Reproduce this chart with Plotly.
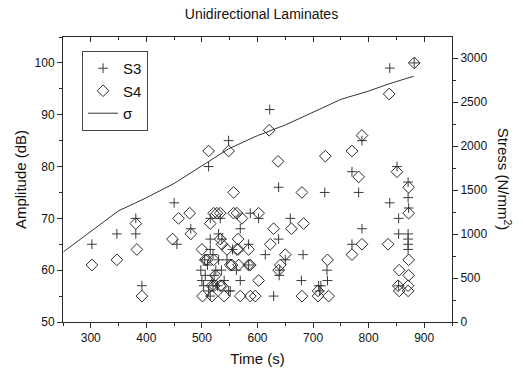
import plotly.graph_objects as go

# S3 acoustic emission hits: time (s), amplitude (dB)
s3_time = [302, 347, 381, 381, 392, 450, 455, 480, 512, 515, 533, 548, 569, 587, 602, 584,
           622, 638, 638, 659, 614, 650, 682, 679, 639, 629, 569, 551, 584, 721, 725, 726,
           710, 770, 770, 782, 788, 788, 838, 838, 851, 854, 854, 854, 871, 871, 872, 871,
           871, 871, 871, 882, 640,
           506, 515, 518, 522, 503, 512, 536, 530, 545, 548, 525, 510, 520, 540, 555, 498,
           505, 515, 528, 535, 562, 500, 515, 530, 520, 712, 714]
s3_amp = [65, 67, 70, 67, 57, 73, 65, 68, 80, 70, 70, 85, 68, 71, 70, 65,
          91, 76, 66, 70, 63, 62, 63, 58, 59, 55, 58, 56, 61, 75, 60, 58,
          57, 79, 65, 75, 68, 85, 99, 73, 80, 70, 67, 57, 77, 74, 72, 67,
          66, 65, 64, 100, 60,
          59, 64, 58, 59, 57, 56, 66, 67, 62, 56, 60, 61, 63, 58, 64, 60,
          62, 66, 57, 60, 60, 58, 55, 62, 57, 56, 57]

# S4 acoustic emission hits: time (s), amplitude (dB)
s4_time = [302, 347, 381, 383, 392, 458, 478, 480, 447, 512, 548, 557, 621, 637, 680, 722,
           770, 788, 782, 837, 851, 872, 872, 882, 770, 788, 835, 855, 872, 872, 853, 855,
           871, 871, 726, 683, 661, 629, 623, 650, 641, 638, 602, 584, 566, 551, 557, 572,
           602, 527, 515, 533, 521, 563, 565, 565, 536, 533, 500, 506, 522, 536, 545, 563,
           584, 587, 554, 509, 524, 518, 533, 501, 518, 540, 569, 587, 596, 680, 709, 728,
           709, 521]
s4_amp = [61, 62, 69, 64, 55, 70, 71, 67, 66, 83, 83, 75, 87, 81, 75, 82,
          83, 86, 78, 94, 79, 76, 71, 100, 63, 65, 65, 60, 62, 59, 57, 56,
          56, 57, 62, 69, 68, 68, 65, 63, 61, 60, 58, 61, 61, 61, 71, 70,
          71, 71, 69, 71, 71, 71, 66, 64, 65, 66, 64, 62, 57, 57, 64, 64,
          64, 61, 61, 62, 59, 57, 57, 55, 55, 55, 55, 55, 55, 55, 55, 55,
          56, 62]

# Stress curve: time (s), stress (N/mm^2)
stress_time = [251, 300, 350, 398, 450, 506, 548, 600, 650, 700, 750, 770, 800, 833, 881]
stress_val = [799, 1030, 1264, 1406, 1575, 1800, 1969, 2119, 2240, 2385, 2531, 2569, 2625, 2700, 2794]

X_RANGE = [250, 950]
Y_RANGE = [50, 105]
Y2_RANGE = [0, 3240]

ink = "#2a2a2a"
font_family = "Liberation Sans, Arial, sans-serif"

fig = go.Figure()
fig.add_trace(go.Scatter(x=s3_time, y=s3_amp, mode="markers", name="S3",
                         marker=dict(symbol="cross-thin-open", size=7, color="#3a3a3a",
                                     line=dict(width=1, color="#3a3a3a"))))
fig.add_trace(go.Scatter(x=s4_time, y=s4_amp, mode="markers", name="S4",
                         marker=dict(symbol="diamond-open", size=9, color=ink,
                                     line=dict(width=1, color=ink))))
fig.add_trace(go.Scatter(x=stress_time, y=stress_val, mode="lines", name="σ",
                         yaxis="y2", line=dict(color="#333333", width=1)))
# invisible trace to hold the top mirror axis
fig.add_trace(go.Scatter(x=[X_RANGE[0]], y=[Y_RANGE[0]], xaxis="x2", mode="markers",
                         marker=dict(opacity=0), showlegend=False, hoverinfo="skip"))

axis_common = dict(showgrid=False, zeroline=False, showline=True, linecolor=ink,
                   linewidth=1, tickcolor=ink, tickfont=dict(size=12, color="#111"))

fig.update_layout(
    width=523, height=377,
    margin=dict(l=63, r=71, t=37, b=52),
    paper_bgcolor="white", plot_bgcolor="white",
    font=dict(family=font_family, color="#111"),
    title=dict(text="Unidirectional Laminates", x=0.5, xanchor="center",
               y=0.975, yanchor="top", font=dict(size=14)),
    xaxis=dict(range=X_RANGE, dtick=100, tick0=0, ticks="outside", ticklen=5,
               minor=dict(ticks="outside", dtick=50, ticklen=3, tickcolor=ink),
               title=dict(text="Time (s)", font=dict(size=15), standoff=9),
               **axis_common),
    xaxis2=dict(range=X_RANGE, overlaying="x", side="top", dtick=100, tick0=0,
                ticks="inside", ticklen=5, showticklabels=False,
                minor=dict(ticks="inside", dtick=50, ticklen=3, tickcolor=ink),
                showgrid=False, zeroline=False, showline=True, linecolor=ink,
                linewidth=1, tickcolor=ink),
    yaxis=dict(range=Y_RANGE, dtick=10, tick0=0, ticks="outside", ticklen=5,
               minor=dict(ticks="outside", dtick=5, ticklen=3, tickcolor=ink),
               title=dict(text="Amplitude (dB)", font=dict(size=15), standoff=4),
               **axis_common),
    yaxis2=dict(range=Y2_RANGE, overlaying="y", side="right", dtick=500, tick0=0,
                ticks="outside", ticklen=5,
                minor=dict(ticks="outside", dtick=250, ticklen=3, tickcolor=ink),
                **axis_common),
    legend=dict(x=0.049, y=0.951, xanchor="left", yanchor="top",
                bordercolor="#444", borderwidth=1, bgcolor="white",
                font=dict(size=15), itemwidth=30, tracegroupgap=0),
    showlegend=True,
)

fig.add_annotation(text="Stress (N/mm<sup>2</sup>)", xref="paper", yref="paper",
                   x=1.165, y=0.5, showarrow=False, textangle=90,
                   font=dict(size=15, color="#111"))

fig.write_html("out.html")
